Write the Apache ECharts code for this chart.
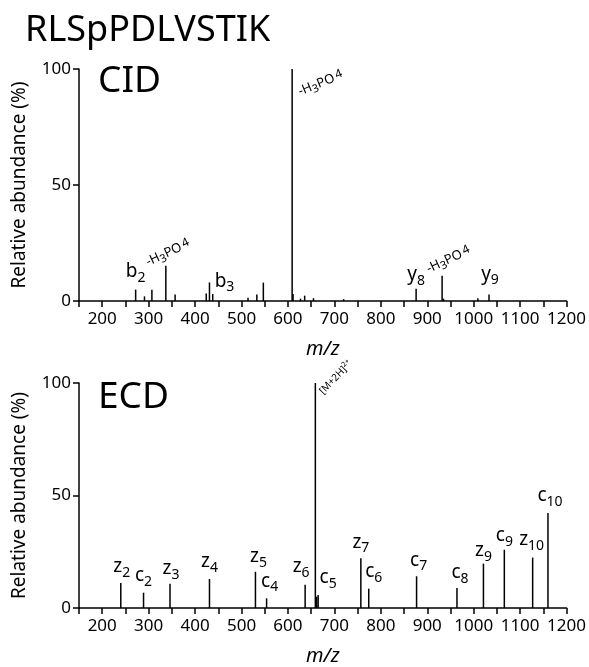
<!DOCTYPE html>
<html>
<head>
<meta charset="utf-8">
<script src="https://cdn.jsdelivr.net/npm/echarts@6/dist/echarts.min.js"></script>
<style>
  html, body { margin: 0; padding: 0; background: #fff; }
  #main { width: 589px; height: 667px; }
</style>
</head>
<body>
<div id="main"></div>
<script>
// CID spectrum
var cidMz  = [272, 291, 307, 337, 357, 424, 431, 438, 514, 533, 547, 609, 611, 627, 636, 655, 720, 876, 932, 935, 1009, 1033];
var cidInt = [4.9, 2.0, 4.9, 15.2, 2.8, 3.2, 8.0, 3.0, 1.4, 2.8, 7.9, 100, 3.0, 1.0, 2.3, 1.2, 0.8, 5.3, 10.9, 1.0, 1.2, 2.8];
var cidLabels = { 272: 'b2', 337: 'H3PO4a', 431: 'b3', 609: 'H3PO4b', 876: 'y8', 932: 'H3PO4c', 1033: 'y9' };

// ECD spectrum
var ecdMz  = [240, 289, 346, 431, 530, 554, 637, 659, 662, 665, 757, 774, 877, 964, 1021, 1066, 1127, 1160];
var ecdInt = [11.1, 6.8, 10.8, 12.9, 16.1, 4.3, 10.3, 100, 5.0, 5.8, 22.1, 8.6, 14.1, 8.9, 19.7, 25.9, 22.4, 42.2];
var ecdLabels = { 240: 'z2', 289: 'c2', 346: 'z3', 431: 'z4', 530: 'z5', 554: 'c4', 637: 'z6', 659: 'M2H', 665: 'c5',
                  757: 'z7', 774: 'c6', 877: 'c7', 964: 'c8', 1021: 'z9', 1066: 'c9', 1127: 'z10', 1160: 'c10' };

var xTicks = { min: 150, max: 1200, step: 50 };
var yTicks = { min: 0, max: 100, step: 50 };

var FONT = 'Noto Sans';
var rich = {
  m: { fontSize: 19, fontFamily: FONT, color: '#000' },
  s: { fontSize: 14, fontFamily: FONT, color: '#000', padding: [12, 0, 0, 0] },
  h: { fontSize: 13, fontFamily: FONT, color: '#000' },
  hs: { fontSize: 11, fontFamily: FONT, color: '#000', padding: [7, 0, 0, 0] },
  h4: { fontSize: 12, fontFamily: FONT, color: '#000', padding: [0, 0, 3, 2] },
  t: { fontSize: 10, fontFamily: FONT, color: '#000' },
  ts: { fontSize: 7, fontFamily: FONT, color: '#000', padding: [0, 0, 6, 0] }
};

var H3PO4 = '{h|-H}{hs|3}{h|PO}{h4|4}';

// label placement (offsets in px relative to the peak top)
var labelStyle = {
  H3PO4a: { text: H3PO4, rotate: 25, align: 'left', verticalAlign: 'middle', offset: [-18.2, -6.3] },
  H3PO4b: { text: H3PO4, rotate: 22, align: 'left', verticalAlign: 'middle', offset: [-4.3, 28.5] },
  H3PO4c: { text: H3PO4, rotate: 25, align: 'left', verticalAlign: 'middle', offset: [-13.2, -7.3] },
  M2H:    { text: '{t|[M+2H]}{ts|2+}', rotate: 46, align: 'left', verticalAlign: 'middle', offset: [-6.6, 14.4] },
  b2: { offset: [0, 0] }, b3: { offset: [15, 17] }, y8: { offset: [0, 4] }, y9: { offset: [1, -2] },
  z2: { offset: [1, 2] }, c2: { offset: [0, 1] }, z3: { offset: [1, 3] }, z4: { offset: [0, 1] },
  z5: { offset: [3, 3] }, c4: { offset: [3, 1] }, z6: { offset: [-4, 0] }, c5: { offset: [10, 1] },
  z7: { offset: [0, 2] }, c6: { offset: [5, 1] }, c7: { offset: [2, 2] }, c8: { offset: [3, 3] },
  z9: { offset: [0, 5] }, c9: { offset: [0, 4] }, z10: { offset: [-1, 0] }, c10: { offset: [2, 1] }
};

function buildData(mz, inten, labels) {
  return mz.map(function (m, i) {
    var item = { value: [m, inten[i]] };
    var key = labels[m];
    if (key) {
      var st = labelStyle[key];
      var txt = st.text || ('{m|' + key.charAt(0) + '}{s|' + key.slice(1) + '}');
      item.label = {
        show: true,
        position: 'top',
        distance: 5,
        formatter: txt,
        rich: rich,
        offset: st.offset,
        rotate: st.rotate || 0,
        align: st.align || 'center',
        verticalAlign: st.verticalAlign || 'bottom'
      };
    }
    return item;
  });
}

function xAxisOpt(idx) {
  return {
    type: 'value', gridIndex: idx,
    min: xTicks.min, max: xTicks.max, interval: xTicks.step,
    name: 'm/z', nameLocation: 'middle', nameGap: 38,
    nameTextStyle: { fontFamily: FONT, fontSize: 20, fontStyle: 'italic', color: '#000' },
    axisLine: { show: true, lineStyle: { color: '#000', width: 1.5 } },
    axisTick: { show: true, length: 6, lineStyle: { color: '#000', width: 1.5 } },
    axisLabel: {
      color: '#000', fontFamily: FONT, fontSize: 17, margin: 10,
      formatter: function (v) { return v % 100 === 0 ? String(v) : ''; }
    },
    splitLine: { show: false }
  };
}

function yAxisOpt(idx) {
  return {
    type: 'value', gridIndex: idx,
    min: yTicks.min, max: yTicks.max, interval: yTicks.step,
    name: 'Relative abundance (%)', nameLocation: 'middle', nameGap: 50,
    nameTextStyle: { fontFamily: FONT, fontSize: 19, color: '#000' },
    axisLine: { show: true, lineStyle: { color: '#000', width: 1.5 } },
    axisTick: { show: true, length: 6, lineStyle: { color: '#000', width: 1.5 } },
    axisLabel: { color: '#000', fontFamily: FONT, fontSize: 17, margin: 8 },
    splitLine: { show: false }
  };
}

var chart = echarts.init(document.getElementById('main'));
var option = {
  animation: false,
  backgroundColor: '#fff',
  title: [
    { text: 'RLSpPDLVSTIK', left: 20, top: 8, textStyle: { fontFamily: FONT, fontSize: 36, fontWeight: 'normal', color: '#000' } },
    { text: 'CID', left: 93, top: 58, textStyle: { fontFamily: FONT, fontSize: 37, fontWeight: 'normal', color: '#000' } },
    { text: 'ECD', left: 93, top: 374, textStyle: { fontFamily: FONT, fontSize: 37, fontWeight: 'normal', color: '#000' } }
  ],
  grid: [
    { left: 79, right: 22, top: 69, height: 232 },
    { left: 79, right: 22, top: 383, height: 231 }
  ],
  xAxis: [xAxisOpt(0), xAxisOpt(1)],
  yAxis: [yAxisOpt(0), yAxisOpt(1)],
  series: [
    {
      type: 'bar', xAxisIndex: 0, yAxisIndex: 0, barWidth: 1.5,
      itemStyle: { color: '#000' },
      data: buildData(cidMz, cidInt, cidLabels)
    },
    {
      type: 'bar', xAxisIndex: 1, yAxisIndex: 1, barWidth: 1.5,
      itemStyle: { color: '#000' },
      data: buildData(ecdMz, ecdInt, ecdLabels)
    }
  ]
};
chart.setOption(option);
</script>
</body>
</html>
